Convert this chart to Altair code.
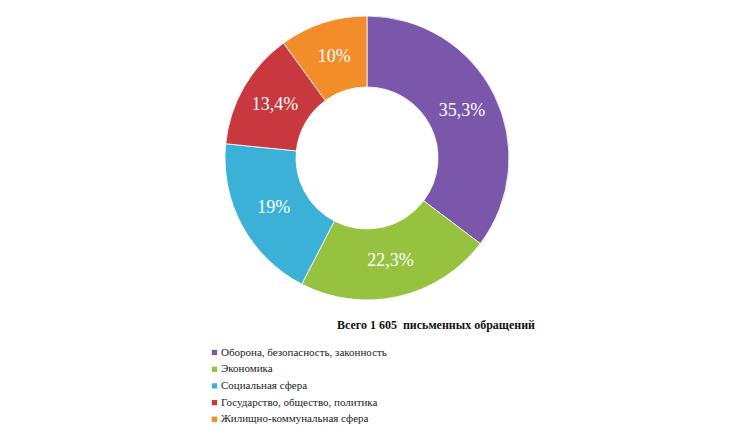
import altair as alt
import pandas as pd

categories = [
    "Оборона, безопасность, законность",
    "Экономика",
    "Социальная сфера",
    "Государство, общество, политика",
    "Жилищно-коммунальная сфера",
]
values = [35.3, 22.3, 19.0, 13.4, 10.0]
labels = ["35,3%", "22,3%", "19%", "13,4%", "10%"]
colors = ["#7B57AB", "#97C23F", "#3BB1D8", "#C9383F", "#F38D2A"]
title_text = "Всего 1 605\u00a0 письменных обращений"

SERIF = "'Liberation Serif', 'Times New Roman', 'DejaVu Serif', serif"

df = pd.DataFrame({
    "cat": categories,
    "val": values,
    "lab": labels,
    "ord": list(range(len(categories))),
})

CX, CY = 359, 150
R_OUT, R_IN = 142, 71

base = alt.Chart(df).encode(
    theta=alt.Theta("val:Q", stack=True),
    order=alt.Order("ord:Q"),
    x=alt.value(CX),
    y=alt.value(CY),
)

arcs = base.mark_arc(outerRadius=R_OUT, innerRadius=R_IN, stroke="#ffffff", strokeWidth=0.8).encode(
    color=alt.Color(
        "cat:N",
        scale=alt.Scale(domain=categories, range=colors),
        sort=categories,
        legend=alt.Legend(
            orient="none",
            legendX=201,
            legendY=339,
            title=None,
            symbolType="square",
            symbolSize=28,
            symbolStrokeWidth=0,
            labelFont=SERIF,
            labelFontSize=11,
            labelColor="#222222",
            rowPadding=4.7,
            labelLimit=400,
            symbolOffset=0,
            labelOffset=1,
        ),
    )
)

texts = base.mark_text(
    radius=106, font=SERIF, fontSize=18, color="white"
).encode(text="lab:N")

title_df = pd.DataFrame({"t": [title_text]})
title = alt.Chart(title_df).mark_text(
    font=SERIF, fontSize=12, fontWeight="bold", color="#111111", align="center"
).encode(x=alt.value(428), y=alt.value(317), text="t:N")

chart = alt.layer(arcs, texts, title).properties(
    width=719, height=425, autosize=alt.AutoSizeParams(type="none"), padding=0,
    background="white",
).configure_view(stroke=None)

chart.save("out.html", embed_options={"renderer": "svg", "actions": False})
